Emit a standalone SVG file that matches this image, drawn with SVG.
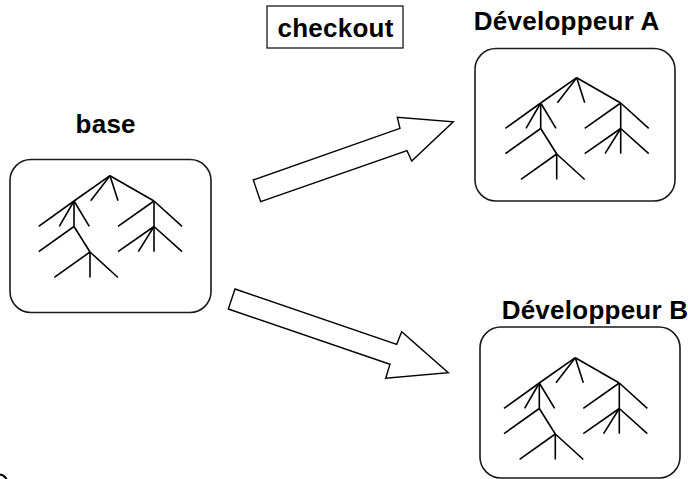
<svg xmlns="http://www.w3.org/2000/svg" xmlns:xlink="http://www.w3.org/1999/xlink" width="688" height="479" viewBox="0 0 688 479">
  <style>
    .box { fill: #ffffff; stroke: #1a1a1a; stroke-width: 1.6; }
    .tag { fill: #ffffff; stroke: #1a1a1a; stroke-width: 1.3; }
    .label { font-family: "Liberation Sans", Arial, sans-serif; font-weight: bold; font-size: 26px; letter-spacing: 0.25px; fill: #000000; text-anchor: middle; }
    .tree line { stroke: #000000; stroke-width: 1.6; stroke-linecap: butt; }
    .arrow { fill: #ffffff; stroke: #000000; stroke-width: 1.4; stroke-linejoin: miter; }
  </style>
  <defs>
    <!-- branching tree, drawn relative to its top node -->
    <g id="tree" class="tree">
      <line x1="0" y1="0" x2="-36" y2="25.3"/>
      <line x1="0" y1="0" x2="44" y2="25.3"/>
      <line x1="0" y1="0" x2="-19.3" y2="25"/>
      <line x1="0" y1="0" x2="8" y2="25"/>
      <line x1="-36" y1="25.3" x2="-71.3" y2="50.6"/>
      <line x1="-36" y1="25.3" x2="-50.7" y2="50.6"/>
      <line x1="-36" y1="25.3" x2="-20.7" y2="50.6"/>
      <line x1="-36" y1="25.3" x2="-36" y2="50.8"/>
      <line x1="-36" y1="50.8" x2="-71.3" y2="76"/>
      <line x1="-36" y1="50.8" x2="-20" y2="76.3"/>
      <line x1="-20" y1="76.3" x2="-55.7" y2="101.6"/>
      <line x1="-20" y1="76.3" x2="-20" y2="101.8"/>
      <line x1="-20" y1="76.3" x2="8" y2="101.8"/>
      <line x1="44" y1="25.3" x2="8" y2="50.6"/>
      <line x1="44" y1="25.3" x2="72" y2="50.6"/>
      <line x1="44" y1="25.3" x2="44" y2="50.8"/>
      <line x1="44" y1="50.8" x2="8" y2="76"/>
      <line x1="44" y1="50.8" x2="28.3" y2="76"/>
      <line x1="44" y1="50.8" x2="44" y2="76"/>
      <line x1="44" y1="50.8" x2="72" y2="76"/>
    </g>
  </defs>

  <rect x="0" y="0" width="688" height="479" fill="#ffffff"/>

  <g id="checkout">
    <rect class="tag" x="267" y="6" width="136" height="42"/>
    <text class="label" x="335.5" y="37">checkout</text>
  </g>

  <g id="base">
    <text class="label" x="105.7" y="133">base</text>
    <rect class="box" x="10" y="159.5" width="201" height="153" rx="21" ry="21"/>
    <use xlink:href="#tree" transform="translate(110,175.7)"/>
  </g>

  <g id="developpeur-a">
    <text class="label" x="566.7" y="29.5">Développeur A</text>
    <rect class="box" x="475" y="48.5" width="200" height="152.5" rx="21" ry="21"/>
    <use xlink:href="#tree" transform="translate(576.7,77.7)"/>
  </g>

  <g id="developpeur-b">
    <text class="label" x="595" y="318.5">Développeur B</text>
    <rect class="box" x="480" y="327" width="200" height="151" rx="21" ry="21"/>
    <use xlink:href="#tree" transform="translate(575.3,357.7)"/>
  </g>

  <g id="connectors">
    <polygon class="arrow" points="260.7,201.7 253.3,180 400,128.3 397.3,117.3 453.3,121.7 411.7,161 407,150.7"/>
    <polygon class="arrow" points="235,289 228.3,309 390,364.3 385.7,378.3 448.3,372.7 401.7,331.7 396.7,344.3"/>
  </g>

  <!-- edge fragment in the lower left corner -->
  <path d="M0,474.5 Q4,475 6.5,479" fill="none" stroke="#000000" stroke-width="2.2"/>
</svg>
